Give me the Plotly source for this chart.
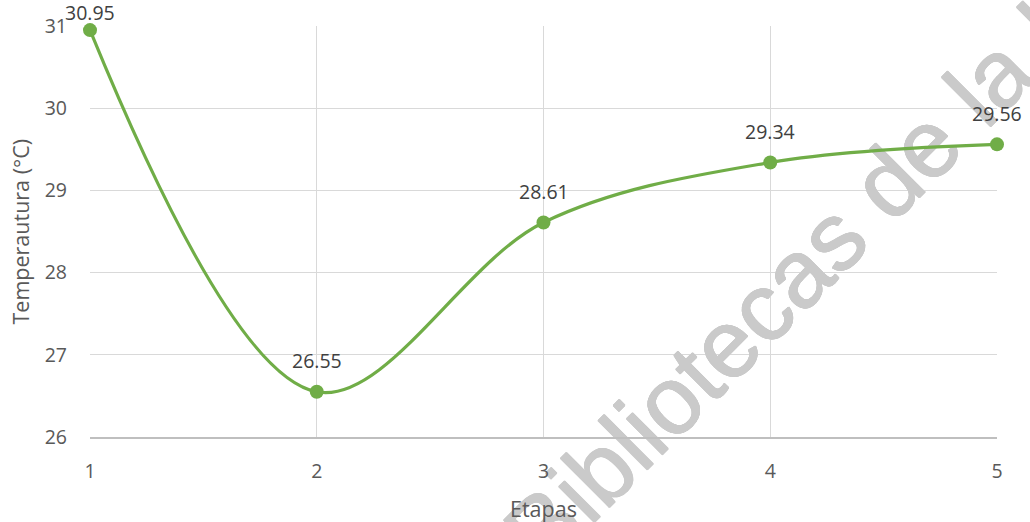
import plotly.graph_objects as go

# Temperature per stage
etapas = [1, 2, 3, 4, 5]
temperatura = [30.95, 26.55, 28.61, 29.34, 29.56]
y_ticks = [26, 27, 28, 29, 30, 31]
x_title = "Etapas"
y_title = "Temperautura (°C)"
watermark = "Bibliotecas de la U"

GREEN = "#70AD47"
GRID = "#D9D9D9"
AXIS = "#BFBFBF"
MARK = "#CACACA"
TICK_FONT = dict(family="Open Sans", size=19.5, color="#595959")
LABEL_FONT = dict(family="Open Sans", size=19.5, color="#404040")
TITLE_FONT = dict(family="Open Sans", size=21.5, color="#595959")

W, H = 1030, 522
M = dict(l=90, r=33, t=26, b=85)
X_MIN, X_MAX = 1, 5
Y_MIN, Y_MAX = 26, 31

fig = go.Figure()

fig.add_trace(go.Scatter(
    x=etapas, y=temperatura,
    mode="lines+markers",
    line=dict(color=GREEN, width=3.2, shape="spline", smoothing=1),
    marker=dict(color=GREEN, size=14),
    cliponaxis=False,
    hoverinfo="skip",
    showlegend=False,
))

# value labels above each point; pushed down when they would leave the top edge
plot_h = H - M["t"] - M["b"]
annotations = []
for xv, yv in zip(etapas, temperatura):
    room = (Y_MAX - yv) / (Y_MAX - Y_MIN) * plot_h + M["t"]
    shift = min(31, room - 13)
    annotations.append(dict(
        x=xv, y=yv, xref="x", yref="y",
        text=f"{yv:.2f}", showarrow=False,
        xanchor="center", yanchor="middle",
        yshift=shift, font=LABEL_FONT,
    ))

annotations.append(dict(
    x=0.5, y=-0.175, xref="paper", yref="paper",
    text=x_title, showarrow=False,
    xanchor="center", yanchor="middle", font=TITLE_FONT,
))
annotations.append(dict(
    x=(20 - M["l"]) / (W - M["l"] - M["r"]), y=0.5,
    xref="paper", yref="paper",
    text=y_title, showarrow=False, textangle=-90,
    xanchor="center", yanchor="middle", font=TITLE_FONT,
))

# diagonal watermark at 45 degrees; a ring of tight shadows thickens the strokes a little
thicken = ", ".join(
    f"{dx}px {dy}px 0 {MARK}"
    for dx, dy in [(0.6, 0), (-0.6, 0), (0, 0.6), (0, -0.6)]
)
mark_label = dict(
    text=watermark,
    textposition="middle",
    yanchor="middle",
    font=dict(family="Liberation Sans", size=96, color=MARK, shadow=thicken),
)
px0, py0, px1, py1 = 0.4681, -0.2564, 1.0880, 1.1114
# full copy under the whole figure (reaches past the plot edges)
fig.add_shape(
    type="line", xref="paper", yref="paper",
    x0=px0, y0=py0, x1=px1, y1=py1,
    line=dict(color="rgba(0,0,0,0)", width=0),
    layer="below", label=mark_label,
)
# same text again inside the plot, above the gridlines and under the curve
fig.add_shape(
    type="line", xref="x", yref="y",
    x0=X_MIN + px0 * (X_MAX - X_MIN), y0=Y_MIN + py0 * (Y_MAX - Y_MIN),
    x1=X_MIN + px1 * (X_MAX - X_MIN), y1=Y_MIN + py1 * (Y_MAX - Y_MIN),
    line=dict(color="rgba(0,0,0,0)", width=0),
    layer="between", label=mark_label,
)

fig.update_layout(
    width=W, height=H,
    margin=M,
    paper_bgcolor="white",
    plot_bgcolor="rgba(0,0,0,0)",
    annotations=annotations,
    xaxis=dict(
        range=[X_MIN, X_MAX], tickvals=etapas,
        showgrid=True, gridcolor=GRID, gridwidth=1.3,
        showline=True, linecolor=AXIS, linewidth=1.5,
        zeroline=False, ticks="", ticklabelstandoff=16,
        tickfont=TICK_FONT, fixedrange=True,
    ),
    yaxis=dict(
        range=[Y_MIN, Y_MAX], tickvals=y_ticks,
        showgrid=True, gridcolor=GRID, gridwidth=1.3,
        showline=False, zeroline=False,
        ticks="", ticklabelstandoff=22,
        tickfont=TICK_FONT, fixedrange=True,
    ),
)

fig.write_html("out.html")
